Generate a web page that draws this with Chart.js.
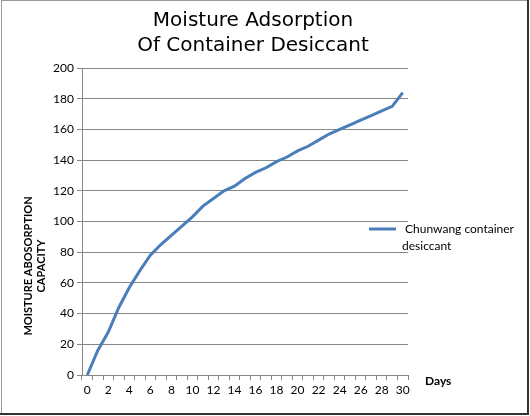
<!DOCTYPE html>
<html>
<head>
<meta charset="utf-8">
<script src="https://cdn.jsdelivr.net/npm/chart.js@4/dist/chart.umd.min.js"></script>
<style>
	body { margin: 0; background: #fff; }
</style>
</head>
<body>
<canvas id="myChart" width="530" height="416"></canvas>
<script>
// data
const days = [0, 1, 2, 3, 4, 5, 6, 7, 8, 9, 10, 11, 12, 13, 14, 15, 16, 17, 18, 19, 20, 21, 22, 23, 24, 25, 26, 27, 28, 29, 30];
const capacity = [0, 16, 28, 44, 57, 68, 78, 85, 91, 97, 103, 110, 115, 120, 123, 128, 132, 135, 139, 142, 146, 149, 153, 157, 160, 163, 166, 169, 172, 175, 184];
const seriesName = "Chunwang container desiccant";
const titleLines = ["Moisture Adsorption", "Of Container Desiccant"];
const yTitle = ["MOISTURE ABOSORPTION", "CAPACITY"];
const xTitle = "Days";

const lineColor = "#4A7EBB";
const gridColor = "#868686";

// title, axis titles, legend and the frame are drawn here
const extras = {
	id: "extras",
	afterDraw(chart) {
		let ctx = chart.ctx;
		ctx.save();
		ctx.fillStyle = "#000";
		ctx.textAlign = "center";
		ctx.textBaseline = "middle";
		ctx.font = "20px 'DejaVu Sans'";
		ctx.fillText(titleLines[0], 253, 21);
		ctx.fillText(titleLines[1], 253, 46);

		// y axis title, rotated
		ctx.save();
		ctx.translate(28, 266);
		ctx.rotate(-Math.PI / 2);
		ctx.font = "bold 11px Lato";
		ctx.fillText(yTitle[0], 0, 0);
		ctx.fillText(yTitle[1], 0, 13);
		ctx.restore();

		// legend
		ctx.strokeStyle = lineColor;
		ctx.lineWidth = 3;
		ctx.beginPath();
		ctx.moveTo(369, 229);
		ctx.lineTo(396, 229);
		ctx.stroke();
		ctx.font = "12px Lato";
		ctx.textAlign = "left";
		ctx.fillText("Chunwang container", 405, 229);
		ctx.fillText("desiccant", 402, 246);

		ctx.font = "bold 12px Lato";
		ctx.fillText(xTitle, 425, 381);

		// frame
		ctx.strokeStyle = "#9a9a9a";
		ctx.lineWidth = 1;
		ctx.strokeRect(1.5, 0.5, 526, 413);
		ctx.strokeStyle = "#333";
		ctx.lineWidth = 2;
		ctx.beginPath();
		ctx.moveTo(528, 0);
		ctx.lineTo(528, 415);
		ctx.moveTo(0, 414);
		ctx.lineTo(529, 414);
		ctx.stroke();
		ctx.restore();
	},
};

let ctx = document.getElementById("myChart");
let myChart = new Chart(ctx, {
	type: "line",
	data: {
		labels: days,
		datasets: [
			{
				label: seriesName,
				data: capacity,
				borderColor: lineColor,
				borderWidth: 3,
				pointRadius: 0,
				fill: false,
				tension: 0,
			},
		],
	},
	options: {
		responsive: false,
		animation: false,
		layout: {
			padding: { left: 14, top: 68, right: 122, bottom: 15 },
		},
		plugins: {
			legend: { display: false },
			title: { display: false },
			tooltip: { enabled: false },
		},
		scales: {
			x: {
				type: "category",
				offset: true,
				afterFit: (scale) => {
					scale.height = 26;
				},
				grid: {
					offset: true,
					drawOnChartArea: false,
					drawTicks: true,
					tickLength: 5,
					color: gridColor,
				},
				border: { color: gridColor },
				ticks: {
					autoSkip: false,
					maxRotation: 0,
					padding: 3,
					color: "#000",
					font: { family: "Lato", size: 12 },
					callback: function (val, i) {
						return i % 2 === 0 ? days[i] : "";
					},
				},
			},
			y: {
				min: 0,
				max: 200,
				afterFit: (scale) => {
					scale.width = 68;
				},
				grid: {
					color: gridColor,
					tickLength: 5,
				},
				border: { color: gridColor },
				ticks: {
					stepSize: 20,
					padding: 3,
					color: "#000",
					font: { family: "Lato", size: 12 },
				},
			},
		},
	},
	plugins: [extras],
});
</script>
</body>
</html>
